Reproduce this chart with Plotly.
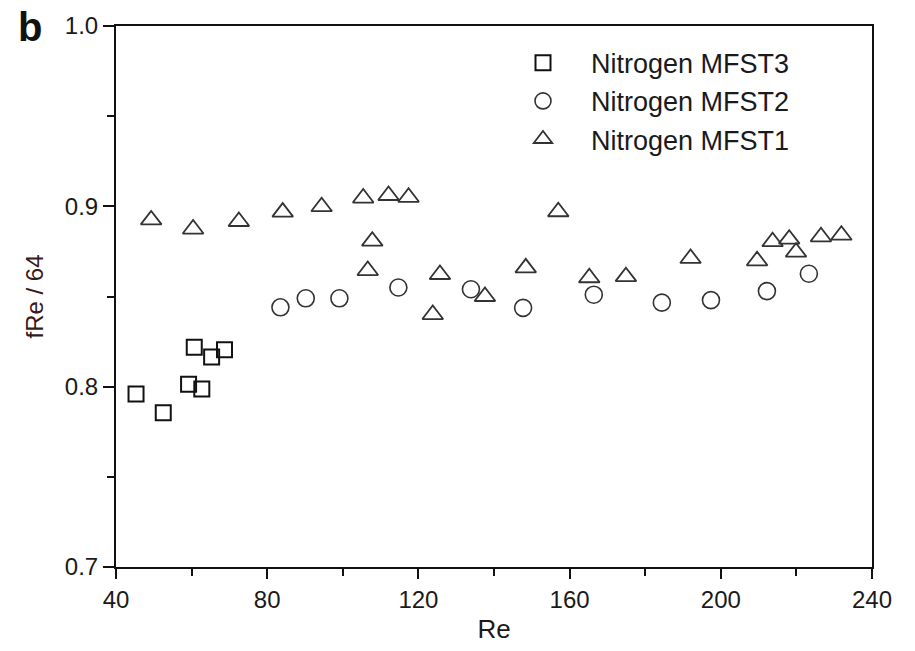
import plotly.graph_objects as go

# ---- data ----
mfst3_re = [45.3, 52.5, 59.2, 62.7, 60.7, 65.3, 68.7]
mfst3_f = [0.796, 0.7855, 0.8014, 0.7987, 0.8218, 0.8165, 0.8205]

mfst2_re = [83.5, 90.2, 99.1, 114.7, 133.9, 147.7, 166.4, 184.4, 197.4, 212.2, 223.3]
mfst2_f = [0.844, 0.849, 0.849, 0.855, 0.854, 0.8437, 0.851, 0.8466, 0.848, 0.853, 0.8626]

mfst1_re = [49.3, 60.4, 72.5, 84.1, 94.4, 105.4, 112.1, 117.4, 107.8, 106.6, 125.7,
            123.8, 137.6, 157.0, 148.4, 165.2, 174.9, 192.0, 209.6, 213.7, 218.1,
            219.9, 226.5, 231.9]
mfst1_f = [0.8925, 0.8874, 0.8916, 0.8968, 0.8998, 0.9046, 0.906, 0.905, 0.8807, 0.8644,
           0.8622, 0.840, 0.850, 0.897, 0.8659, 0.8604, 0.861, 0.8711, 0.8698, 0.8804,
           0.8818, 0.8746, 0.8831, 0.884]

x_range = [40, 240]
y_range = [0.7, 1.0]
x_minor_ticks = [60, 100, 140, 180, 220]
y_minor_ticks = [0.75, 0.85, 0.95]

FONT = "Liberation Sans, Arial, sans-serif"

W, H = 915, 651
ML, MR, MT, MB = 116, 43, 17, 83
PW, PH = W - ML - MR, H - MT - MB

fig = go.Figure()
fig.add_trace(go.Scatter(
    x=mfst3_re, y=mfst3_f, mode="markers", name="Nitrogen MFST3",
    marker=dict(symbol="square-open", size=15, color="#111", line=dict(width=2, color="#111")),
))
fig.add_trace(go.Scatter(
    x=mfst2_re, y=mfst2_f, mode="markers", name="Nitrogen MFST2",
    marker=dict(symbol="circle-open", size=17, color="#333", line=dict(width=1.6, color="#333")),
))
fig.add_trace(go.Scatter(
    x=mfst1_re, y=mfst1_f, mode="markers", name="Nitrogen MFST1",
    marker=dict(symbol="triangle-up-open", size=18, color="#333", line=dict(width=1.8, color="#333")),
))
# empty helper trace so the minor-tick overlay axes are drawn
fig.add_trace(go.Scatter(x=[], y=[], xaxis="x2", yaxis="y2", showlegend=False, hoverinfo="skip"))

fig.update_layout(
    width=W, height=H,
    margin=dict(l=ML, r=MR, t=MT, b=MB),
    paper_bgcolor="white", plot_bgcolor="white",
    font=dict(family=FONT, color="#1a1a1a", size=24),
    showlegend=True,
    legend=dict(
        x=(495 - ML) / PW, y=1 - (30 - MT) / PH, xanchor="left", yanchor="top",
        bgcolor="rgba(0,0,0,0)", borderwidth=0,
        font=dict(family=FONT, size=27, color="#1a1a1a"),
        itemwidth=86, tracegroupgap=0,
    ),
    annotations=[dict(
        text="<b>b</b>", x=(30 - ML) / PW, y=1 - (18 - MT) / PH,
        xref="paper", yref="paper", xanchor="center", yanchor="middle",
        showarrow=False, font=dict(family=FONT, size=40, color="#111"),
    )],
    xaxis=dict(
        range=x_range, tick0=40, dtick=40,
        ticks="outside", ticklen=10, tickwidth=2, tickcolor="#111",
        showline=True, linewidth=2, linecolor="#111", mirror=True,
        showgrid=False, zeroline=False,
        tickfont=dict(family=FONT, size=24, color="#1a1a1a"),
        title=dict(text="Re", font=dict(family=FONT, size=26, color="#1a1a1a"), standoff=8),
    ),
    yaxis=dict(
        range=y_range, tick0=0.7, dtick=0.1, tickformat=".1f",
        ticks="outside", ticklen=11, tickwidth=2, tickcolor="#111",
        showline=True, linewidth=2, linecolor="#111", mirror=True,
        showgrid=False, zeroline=False,
        tickfont=dict(family=FONT, size=24, color="#1a1a1a"),
        title=dict(text="fRe / 64", font=dict(family=FONT, size=24, color="#3a1a1a"), standoff=14),
    ),
    xaxis2=dict(
        overlaying="x", anchor="y", side="bottom", range=x_range,
        tickvals=x_minor_ticks, ticktext=[""] * len(x_minor_ticks),
        ticks="outside", ticklen=7, tickwidth=2, tickcolor="#111",
        showline=True, linewidth=2, linecolor="#111",
        showgrid=False, zeroline=False,
    ),
    yaxis2=dict(
        overlaying="y", anchor="x", side="left", range=y_range,
        tickvals=y_minor_ticks, ticktext=[""] * len(y_minor_ticks),
        ticks="outside", ticklen=7, tickwidth=2, tickcolor="#111",
        showline=True, linewidth=2, linecolor="#111",
        showgrid=False, zeroline=False,
    ),
)

fig.write_html("out.html")
